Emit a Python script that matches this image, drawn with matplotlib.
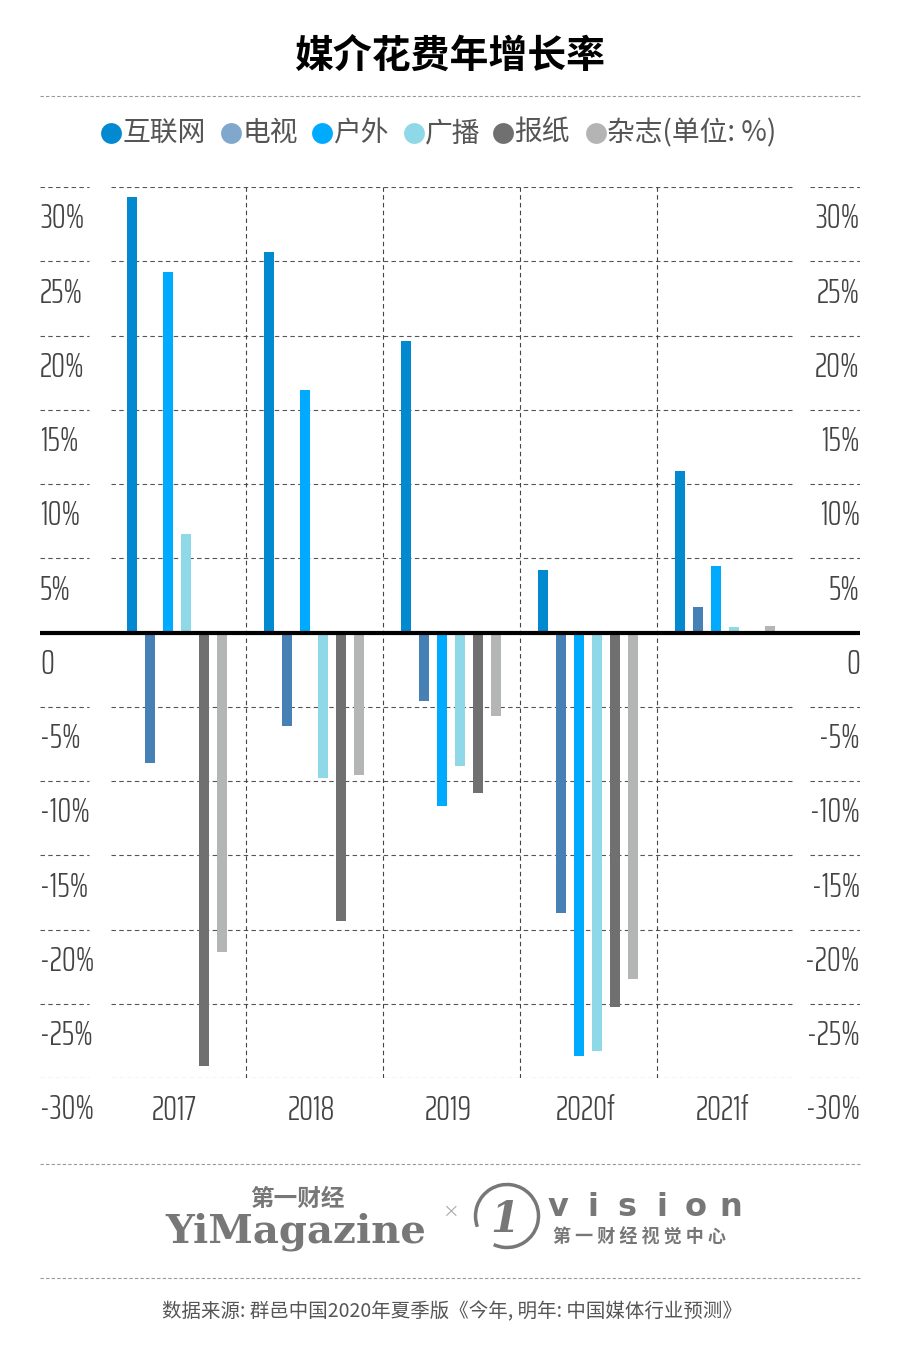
import matplotlib
matplotlib.use("Agg")
import matplotlib.pyplot as plt
from matplotlib.patches import Arc

plt.rcParams['font.family'] = ['Noto Sans CJK SC', 'DejaVu Sans']

# data (% growth)
years = ['2017', '2018', '2019', '2020f', '2021f']
media = ['互联网', '电视', '户外', '广播', '报纸', '杂志']
internet = [29.3, 25.6, 19.6, 4.2, 10.9]
tv = [-8.8, -6.3, -4.6, -18.9, 1.7]
outdoor = [24.3, 16.3, -11.7, -28.5, 4.5]
radio = [6.6, -9.8, -9.0, -28.2, 0.35]
newspaper = [-29.2, -19.4, -10.8, -25.2, 0.0]
magazine = [-21.5, -9.6, -5.6, -23.3, 0.45]
series = [internet, tv, outdoor, radio, newspaper, magazine]
yticks = [30, 25, 20, 15, 10, 5, 0, -5, -10, -15, -20, -25, -30]
ytick_labels = ['30%', '25%', '20%', '15%', '10%', '5%', '0',
                '-5%', '-10%', '-15%', '-20%', '-25%', '-30%']

bar_colors = ['#0289cf', '#4680b4', '#00aaff', '#8ed8e8', '#707070', '#b4b5b5']
dot_colors = ['#0289cf', '#80a8cc', '#00aaff', '#8ed8e8', '#707070', '#b4b4b4']

W, H = 900, 1351
fig = plt.figure(figsize=(W / 100, H / 100), dpi=100)

# overlay axes in pixel coords for title / legend / footer
deco = fig.add_axes([0, 0, 1, 1])
deco.set_xlim(0, W)
deco.set_ylim(H, 0)
deco.axis('off')

# main chart area: x from 40 to 860 px, 30% at y=187, -30% at y=1078
ax = fig.add_axes([40 / W, (H - 1078) / H, 820 / W, (1078 - 187) / H])
ax.patch.set_alpha(0)
ax.set_xlim(-1.0, 4.985)
ax.set_ylim(-30, 30)
ax.axis('off')

step = 18 / 137
width = 10 / 137
for j, vals in enumerate(series):
    xs = [i + (j - 2.5) * step for i in range(len(years))]
    ax.bar(xs, vals, width=width, color=bar_colors[j], zorder=2)

# dashed grid (broken around the tick labels)
dash = (0, (4, 3))
for v in yticks:
    if v == 0:
        continue
    for x0, x1 in [(-1.0, -0.642), (-0.482, 4.489), (4.62, 4.985)]:
        ax.hlines(v, x0, x1, color='#555555', lw=0.8, linestyle=dash, zorder=1)
for i in range(len(years) - 1):
    ax.vlines(i + 0.5, -30, 30, color='#444444', lw=0.8, linestyle=dash, zorder=1)
ax.hlines(0, -1.0, 4.985, color='black', lw=3, zorder=3)

num_font = dict(family=['Saira ExtraCondensed', 'Antonio', 'DejaVu Sans'],
                fontweight=300, fontsize=25, color='#444444')
for v, lab in zip(yticks, ytick_labels):
    ax.text(-1.0, v - 2.15, lab, ha='left', va='center', clip_on=False, **num_font)
    ax.text(4.985, v - 2.15, lab, ha='right', va='center', clip_on=False, **num_font)
for i, yr in enumerate(years):
    ax.text(i - 0.02, -32.2, yr, ha='center', va='center', clip_on=False, **num_font)

# title
deco.text(450, 56, '媒介花费年增长率', ha='center', va='center',
          fontsize=28, fontweight='bold', color='black')
for yy in (96, 1164, 1278):
    deco.hlines(yy, 40, 860, color='#999999', lw=0.8, linestyle=(0, (3, 2)))

# legend row
dot_x = [111, 231, 322, 414, 503, 596]
for k, name in enumerate(media):
    deco.plot(dot_x[k], 133, 'o', ms=15, color=dot_colors[k], mec='none')
    lab = name + '(单位: %)' if k == len(media) - 1 else name
    deco.text(dot_x[k] + 11, 133, lab, ha='left', va='center',
              fontsize=20, color='#555555')

# footer logos
deco.text(297, 1199, '第一财经', ha='center', va='center', fontsize=17,
          fontweight='bold', color='#777777')
deco.text(296, 1232, 'YiMagazine', ha='center', va='center', fontsize=29,
          fontweight='bold', family=['DejaVu Serif'], color='#777777')
deco.text(450, 1212, '×', ha='center', va='center', fontsize=12, color='#aaaaaa')
deco.add_patch(Arc((507, 1216), 63, 63, theta1=160, theta2=115,
                   color='#777777', lw=2.5))
deco.text(505, 1220, '1', ha='center', va='center', fontsize=30,
          fontweight='bold', style='italic', family=['DejaVu Serif'], color='#777777')
for k, ch in enumerate('vision'):
    deco.text(558 + 34.5 * k, 1208, ch, ha='center', va='center', fontsize=23,
              fontweight='bold', family=['DejaVu Sans'], color='#777777')
deco.text(639, 1237, '第 一 财 经 视 觉 中 心', ha='center', va='center',
          fontsize=13, fontweight='bold', color='#777777')

deco.text(452, 1312, '数据来源: 群邑中国2020年夏季版《今年, 明年: 中国媒体行业预测》',
          ha='center', va='center', fontsize=14, color='#555555')

fig.savefig('out.png', dpi=100)
